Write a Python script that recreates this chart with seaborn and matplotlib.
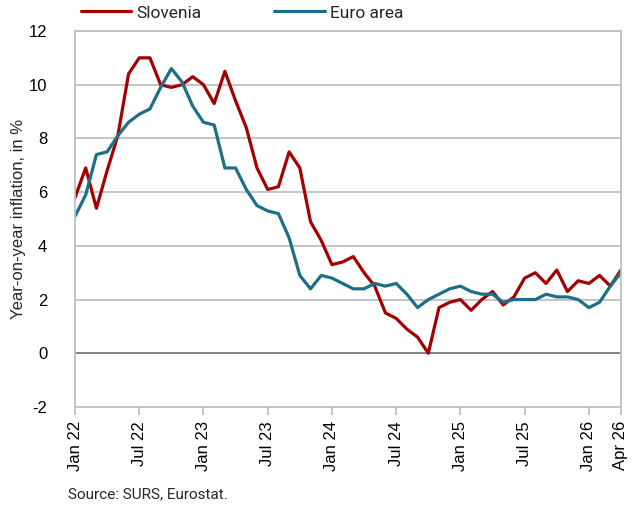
import matplotlib
matplotlib.use("Agg")
import matplotlib.pyplot as plt
import seaborn as sns
import pandas as pd
import numpy as np

months = pd.date_range("2022-01-01", "2026-04-01", freq="MS")

slovenia = [5.8, 6.9, 5.4, 6.8, 8.1, 10.4, 11.0, 11.0, 10.0, 9.9, 10.0, 10.3,
            10.0, 9.3, 10.5, 9.4, 8.4, 6.9, 6.1, 6.2, 7.5, 6.9, 4.9, 4.2,
            3.3, 3.4, 3.6, 3.0, 2.5, 1.5, 1.3, 0.9, 0.6, 0.0, 1.7, 1.9,
            2.0, 1.6, 2.0, 2.3, 1.8, 2.1, 2.8, 3.0, 2.6, 3.1, 2.3, 2.7,
            2.6, 2.9, 2.5, 3.1]
euro_area = [5.1, 5.9, 7.4, 7.5, 8.1, 8.6, 8.9, 9.1, 9.9, 10.6, 10.1, 9.2,
             8.6, 8.5, 6.9, 6.9, 6.1, 5.5, 5.3, 5.2, 4.3, 2.9, 2.4, 2.9,
             2.8, 2.6, 2.4, 2.4, 2.6, 2.5, 2.6, 2.2, 1.7, 2.0, 2.2, 2.4,
             2.5, 2.3, 2.2, 2.2, 1.9, 2.0, 2.0, 2.0, 2.2, 2.1, 2.1, 2.0,
             1.7, 1.9, 2.5, 3.0]
tick_months = [0, 6, 12, 18, 24, 30, 36, 42, 48, 51]
tick_labels = ["Jan 22", "Jul 22", "Jan 23", "Jul 23", "Jan 24", "Jul 24",
               "Jan 25", "Jul 25", "Jan 26", "Apr 26"]
series_names = ["Slovenia", "Euro area"]
colors = ["#A50000", "#1B7088"]

idx = np.arange(len(months))
df = pd.DataFrame({
    "m": np.concatenate([idx, idx]),
    "value": slovenia + euro_area,
    "series": [series_names[0]] * len(idx) + [series_names[1]] * len(idx),
})

sns.set_theme(style="white")
plt.rcParams["font.family"] = ["Liberation Sans", "DejaVu Sans"]

fig = plt.figure(figsize=(6.34, 5.08), dpi=100)
ax = fig.add_axes([75 / 634, 1 - 407 / 508, (621 - 75) / 634, (407 - 31) / 508])

sns.lineplot(data=df, x="m", y="value", hue="series",
             palette=dict(zip(series_names, colors)), linewidth=2.3,
             ax=ax, legend=False)

ax.set_xlim(0, 51)
ax.set_ylim(-2, 12)
ax.set_yticks(range(-2, 13, 2))
ax.set_yticklabels([str(v) for v in range(-2, 13, 2)], fontsize=12, color="#000000")
ax.yaxis.grid(True, color="#BFBFBF", linewidth=1.3)
ax.set_axisbelow(True)
ax.axhline(0, color="#7F7F7F", linewidth=1.3, zorder=1)
ax.tick_params(axis="y", length=0, pad=20)

ax.set_xticks(tick_months)
ax.set_xticklabels(tick_labels, rotation=90, fontsize=12, color="#000000")
ax.tick_params(axis="x", length=6, width=1.3, color="#BFBFBF", direction="out",
               bottom=True, pad=4)

for s in ax.spines.values():
    s.set_color("#BFBFBF")
    s.set_linewidth(1.3)

ax.set_xlabel("")
ax.set_ylabel("Year-on-year inflation, in %", fontsize=12)
ax.yaxis.set_label_coords(-49 / 546, 0.5)

handles = [plt.Line2D([], [], color=c, linewidth=2.3) for c in colors]
fig.legend(handles, series_names, loc="center left", bbox_to_anchor=(65 / 634, 1 - 13 / 508),
           ncol=2, frameon=False, handlelength=2.9, handletextpad=0.3,
           columnspacing=4.2, prop={"family": ["Roboto", "DejaVu Sans"], "size": 12.5})

fig.text(68 / 634, 1 - 494 / 508, "Source: SURS, Eurostat.", fontsize=11,
         family=["Roboto", "DejaVu Sans"], va="center", ha="left")

fig.savefig("out.png", dpi=100)
